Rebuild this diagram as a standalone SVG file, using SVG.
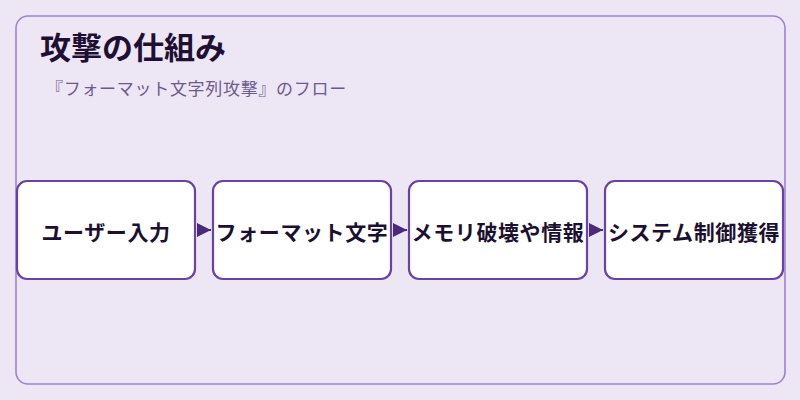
<svg xmlns="http://www.w3.org/2000/svg" width="800" height="400" viewBox="0 0 800 400">
<style>
.node rect{fill:#ffffff;stroke:#6a42a3;stroke-width:2.2}
.node text{font-family:"Noto Sans CJK JP","Noto Sans",sans-serif;font-weight:bold;font-size:21px;fill:#1c1030;text-anchor:middle;dominant-baseline:central;letter-spacing:0.6px}
.conn path{stroke:#4b2a7d;stroke-width:2;fill:none}
</style>
<defs>
<marker id="arr" viewBox="0 0 10 10" refX="10" refY="5" markerWidth="14" markerHeight="16" markerUnits="userSpaceOnUse" orient="auto">
<path d="M0,0 L10,5 L0,10 Z" fill="#4b2a7d"/>
</marker>
</defs>
<rect x="0" y="0" width="800" height="400" fill="#ede6f5"/>
<rect x="16" y="16" width="769" height="368" rx="12" fill="#ede6f5" stroke="#9f82cc" stroke-width="1.6"/>
<text x="40" y="59" font-family="Noto Sans CJK JP,sans-serif" font-weight="bold" font-size="31" fill="#1e1033">攻撃の仕組み</text>
<text x="46" y="95" font-family="Noto Sans CJK JP,sans-serif" font-size="17" fill="#6b5a8c" letter-spacing="0.7">『フォーマット文字列攻撃』のフロー</text>
<g class="conn">
<path d="M198,230 L211,230" marker-end="url(#arr)"/>
<path d="M394,230 L407,230" marker-end="url(#arr)"/>
<path d="M590,230 L603,230" marker-end="url(#arr)"/>
</g>
<g id="n1" class="node"><rect x="17" y="181" width="178" height="98" rx="10"/><text x="106" y="231">ユーザー入力</text></g>
<g id="n2" class="node"><rect x="213" y="181" width="178" height="98" rx="10"/><text x="302" y="231">フォーマット文字</text></g>
<g id="n3" class="node"><rect x="409" y="181" width="178" height="98" rx="10"/><text x="498" y="231">メモリ破壊や情報</text></g>
<g id="n4" class="node"><rect x="605" y="181" width="178" height="98" rx="10"/><text x="694" y="231">システム制御獲得</text></g>
</svg>
